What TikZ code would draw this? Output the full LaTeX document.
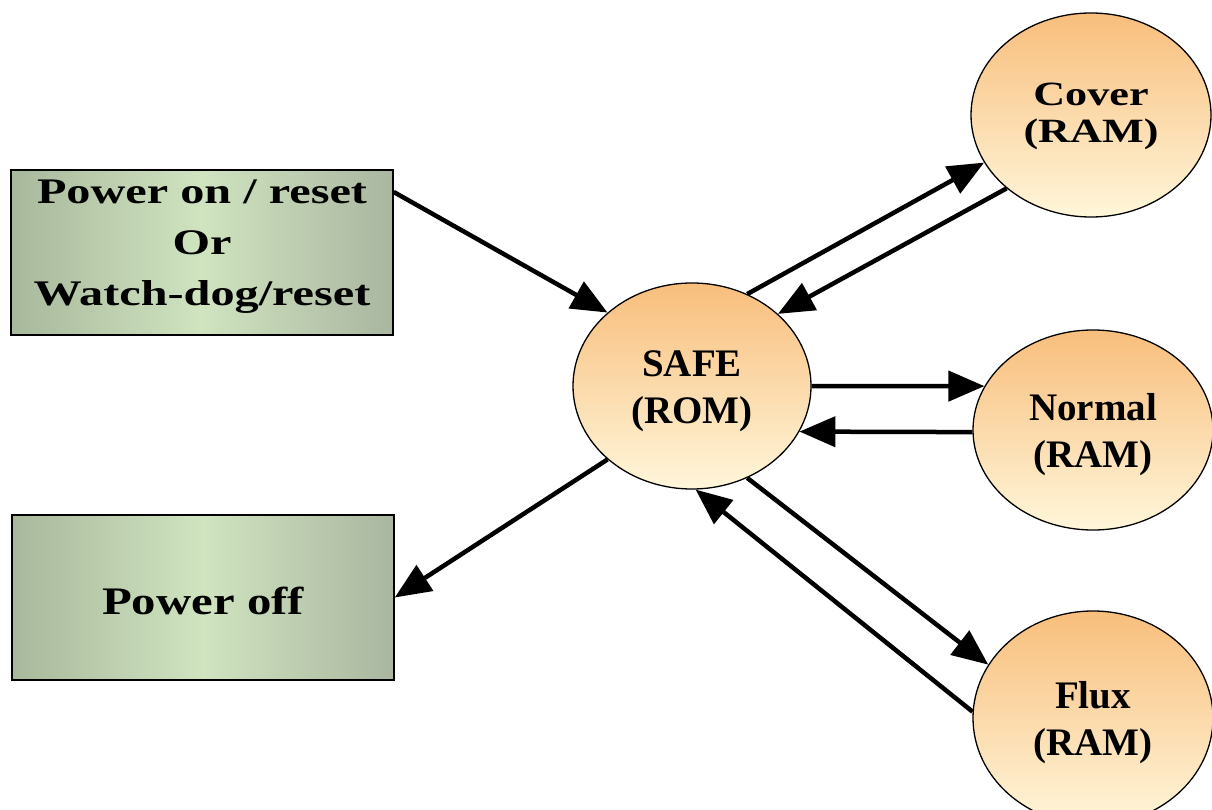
\documentclass[tikz,border=0pt]{standalone}
\usepackage{fontspec}
\setmainfont{Liberation Serif}
\usetikzlibrary{arrows.meta,shapes.geometric}
\definecolor{boxL}{RGB}{168,184,156}
\definecolor{boxM}{RGB}{208,228,192}
\definecolor{boxR}{RGB}{170,182,160}
\definecolor{ellT}{RGB}{248,190,124}
\definecolor{ellB}{RGB}{255,246,218}
\newcommand\boxtext[2]{\scalebox{#1}[1]{\begin{tabular}{@{}c@{}}#2\end{tabular}}}
\newcommand\elltext[1]{\raisebox{-5pt}[\height][\depth]{\begin{tabular}{@{}c@{}}#1\end{tabular}}}
\begin{document}
\begin{tikzpicture}[x=1pt,y=-1pt,
  boxnode/.style={rectangle, draw=black, line width=1.5pt, left color=boxL, right color=boxR, middle color=boxM,
    inner sep=0pt, minimum width=382pt, minimum height=165pt, font=\bfseries},
  state/.style={ellipse, draw=black, line width=1.3pt, top color=ellT, bottom color=ellB,
    inner sep=0pt, minimum width=240pt, minimum height=205pt, font=\fontsize{39}{47}\selectfont\bfseries},
  conn/.style={line width=4.5pt, -{Triangle[length=36pt,width=30pt]}}
]
\useasboundingbox (0,0) rectangle (1212,810);

\node[boxnode] (start) at (202,252.5)
  {\fontsize{36}{51}\selectfont\raisebox{8pt}[\height][\depth]{\boxtext{1.34}{Power on / reset\\Or\\Watch-dog/reset}}};
\node[boxnode] (off) at (203,597.5)
  {\fontsize{39}{47}\selectfont\raisebox{-3pt}[\height][\depth]{\scalebox{1.25}[1]{Power off}}};

\node[state, minimum width=238pt, minimum height=206pt] (safe) at (692,386) {\elltext{SAFE\\(ROM)}};
\node[state, minimum height=204pt, font=\fontsize{34}{37}\selectfont\bfseries] (cover) at (1091,115)
  {\raisebox{-2pt}[\height][\depth]{\boxtext{1.3}{Cover\\(RAM)}}};
\node[state, minimum height=200pt] (normal) at (1093,430) {\elltext{Normal\\(RAM)}};
\node[state, minimum height=214pt] (flux) at (1093,718) {\elltext{Flux\\(RAM)}};

\draw[conn] ([yshift=60.5pt]start.east) -- (safe.139.3);
\draw[conn] (safe.59.4) -- (cover.204);
\draw[conn] (cover.221.1) -- (safe.40.3);
\draw[conn] (safe.east) -- (normal.158);
\draw[conn] (normal.181.5) -- (safe.337.5);
\draw[conn] (safe.301.1) -- (flux.153.6);
\draw[conn] (flux.177.6) -- (safe.272);
\draw[conn] (safe.221.4) -- (off.east);
\end{tikzpicture}
\end{document}
